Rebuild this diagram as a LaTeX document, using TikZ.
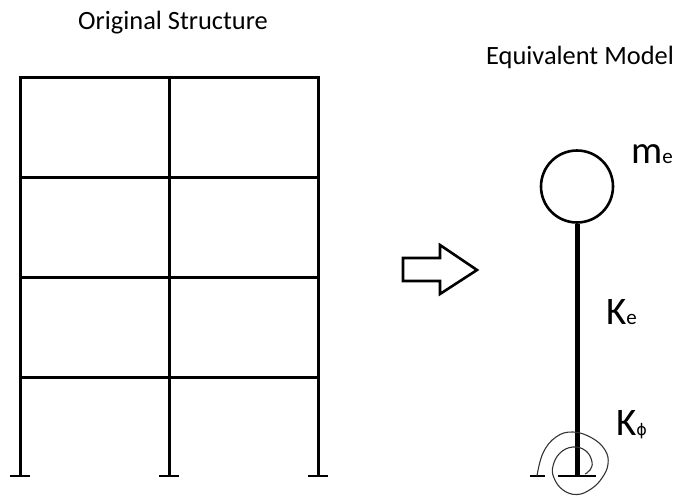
\documentclass[tikz,border=0pt]{standalone}
\usepackage{fontspec}
\setmainfont{Carlito}
\usetikzlibrary{calc}
\tikzset{
  memb/.style  = {line width=3pt, black},
  foot/.style  = {line width=2.4pt, black},
  lbl/.style   = {font=\fontsize{26.4}{30}\selectfont, inner sep=0pt, anchor=base west},
  sym/.style   = {font=\fontsize{39}{44}\selectfont, inner sep=0pt, anchor=base west},
  mass/.style  = {circle, draw=black, line width=2.6pt, minimum size=72pt, inner sep=0pt},
  shaft/.style = {line width=5pt, black},
  coil/.style  = {line width=1.1pt, black!80},
}
\newcommand{\subsym}[1]{{\fontsize{21}{24}\selectfont #1}}

\begin{document}
\begin{tikzpicture}[x=1pt,y=-1pt]
  \useasboundingbox (0,0) rectangle (676,495);

  \node[lbl] (title1) at (78,30) {Original Structure};
  \node[lbl] (title2) at (486,64) {Equivalent Model};

  % frame
  \foreach \col/\xc in {a/20,b/169,c/318} {
    \coordinate (\col top) at (\xc,77.5);
    \coordinate (\col bot) at (\xc,476);
    \draw[memb] (\col top) -- (\col bot);
    \draw[foot] ($(\col bot)+(-10,0)$) -- ($(\col bot)+(10,0)$);
  }
  \foreach \yb in {0,100,200,300} {
    \draw[memb] ($(atop)+(-1.5,\yb)$) -- ($(ctop)+(1.5,\yb)$);
  }

  % arrow
  \draw[line width=2.6pt, miter limit=10] (403,258) -- (440,258) -- (440,245) -- (477,270)
    -- (440,294) -- (440,281) -- (403,281) -- cycle;

  % model
  \node[mass] (me) at (577,186.5) {};
  \coordinate (base) at (577,476);
  \draw[shaft] (me.south) -- (base);
  \draw[foot] ($(base)+(-19,0)$) -- ($(base)+(19,0)$);
  \draw[foot, line width=1.8pt] ($(base)+(-47,0)$) -- ($(base)+(-32,0)$);
  \draw[coil] plot[smooth, tension=0.7] coordinates {
    (537,476) (543,453) (556,437) (573,432) (592,438) (605,450) (608,464) (602,478)
    (591,489) (577,494.5) (563,490) (554,478) (553,466) (560,453) (573,447) (586,451)
    (592,462) (590,470) (585,474)};

  \node[sym] (mlbl) at (631,163) {m\subsym{e}};
  \node[sym] (klbl) at (606,324) {K\subsym{e}};
  \node[sym] (kphi) at (616,435) {K{\fontsize{16}{18}\selectfont\fontspec{DejaVu Sans}ϕ}};
\end{tikzpicture}
\end{document}
